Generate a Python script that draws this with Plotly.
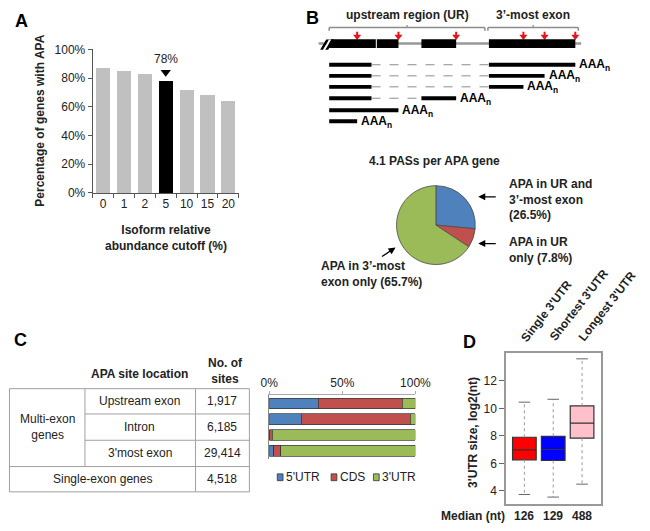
import plotly.graph_objects as go

W, H = 650, 531


def X(p):
    return p / W


def Y(p):
    return 1 - p / H


FONT = "Liberation Sans, Arial, sans-serif"
DARK = "#222222"

# ---------------- Panel A data ----------------
cutoffs = ['0', '1', '2', '5', '10', '15', '20']
apa_pct = [87, 85, 83, 78, 72, 68, 64]
highlight_cutoff = '5'
pct_ticks = [0, 20, 40, 60, 80, 100]

# ---------------- Panel B data ----------------
exon_starts = [0, 18.7, 36.6, 63.4]
exon_ends = [18.7, 27.5, 50.4, 97.7]
gene_end = 100
pas_positions = [11.1, 27.5, 50.4, 77.1, 85.5, 97.7]
region_labels = ['upstream region (UR)', '3’-most exon']
region_starts = [0, 63.0]
region_ends = [61.8, 98.9]
transcripts = [
    [(0, 16.8), (63.4, 97.7)],
    [(0, 16.8), (63.4, 85.5)],
    [(0, 16.8), (63.4, 77.1)],
    [(0, 16.8), (36.6, 50.4)],
    [(0, 27.5)],
    [(0, 11.1)],
]
pie_title = '4.1 PASs per APA gene'
pie_labels = ['APA in UR and<br>3’-most exon', 'APA in UR<br>only', 'APA in 3’-most<br>exon only']
pie_values = [26.5, 7.8, 65.7]
pie_colors = ['#4F81BD', '#C0504D', '#9BBB59']

# ---------------- Panel C data ----------------
site_groups = ['Multi-exon<br>genes', 'Single-exon genes']
site_locations = ['Upstream exon', 'Intron', "3'most exon"]
site_counts = [1917, 6185, 29414, 4518]
region_types = ["5'UTR", 'CDS', "3'UTR"]
bar_rows = ['Upstream exon', 'Intron', "3'most exon", 'Single-exon genes']
utr5_pct = [33.5, 22.0, 0.4, 3.0]
cds_pct = [57.5, 74.5, 1.6, 5.0]
utr3_pct = [9.0, 3.5, 98.0, 92.0]
region_colors = ['#4F81BD', '#C0504D', '#9BBB59']
stack_ticks = [0, 50, 100]

# ---------------- Panel D data ----------------
utr_groups = ["Single 3'UTR", "Shortest 3'UTR", "Longest 3'UTR"]
median_nt = [126, 129, 488]
box_q1 = [6.26, 6.21, 7.83]
box_median = [6.98, 7.01, 8.93]
box_q3 = [7.90, 7.97, 10.18]
whisker_low = [3.74, 3.55, 4.49]
whisker_high = [10.45, 10.66, 13.60]
box_colors = ['#FF0000', '#0000FF', '#FFC0CB']
size_ticks = [4, 6, 8, 10, 12]

fig = go.Figure()
shapes = []
annotations = []


def ann(text, x, y, size=12, bold=False, xanchor='center', yanchor='middle',
        xref='paper', yref='paper', color=DARK, **kw):
    annotations.append(dict(
        text=('<b>%s</b>' % text) if bold else text, x=x, y=y, xref=xref, yref=yref,
        xanchor=xanchor, yanchor=yanchor, showarrow=False,
        font=dict(family=FONT, size=size, color=color), **kw))


# ================= Panel A =================
hi_idx = cutoffs.index(highlight_cutoff)
bar_colors = ['#000000' if c == highlight_cutoff else '#C0C0C0' for c in cutoffs]
fig.add_trace(go.Bar(x=cutoffs, y=apa_pct, marker=dict(color=bar_colors, line=dict(width=0)),
                     xaxis='x', yaxis='y', showlegend=False, hoverinfo='skip'))
hi_val = apa_pct[hi_idx]
fig.add_trace(go.Scatter(x=[highlight_cutoff], y=[hi_val + 6], mode='markers',
                         marker=dict(symbol='triangle-down', size=9, color='black'),
                         xaxis='x', yaxis='y', showlegend=False, hoverinfo='skip', cliponaxis=False))
ann('%d%%' % hi_val, hi_idx, hi_val + 15, size=12, xref='x', yref='y')
ann('Isoform relative<br>abundance cutoff (%)', X(163), Y(237), size=12, bold=True)
ann('Percentage of genes with APA', X(32), Y(117), size=12, bold=True, textangle=-90)
ann('A', X(4), Y(14), size=18, bold=True, xanchor='left', color='black')

# ================= Panel B schematic =================
XB = 'x2'
YB = 'y2'


def bline(x0, y0, x1, y1, color, width, dash='solid'):
    shapes.append(dict(type='line', xref=XB, yref=YB, x0=x0, y0=y0, x1=x1, y1=y1,
                       line=dict(color=color, width=width, dash=dash)))


def brect(x0, y0, x1, y1, color):
    shapes.append(dict(type='rect', xref=XB, yref=YB, x0=x0, y0=y0, x1=x1, y1=y1,
                       fillcolor=color, line=dict(width=0)))


# region brackets
for lab, s, e in zip(region_labels, region_starts, region_ends):
    bline(s, 21, e, 21, '#8C8C8C', 1.5)
    bline(s, 21, s, 24.5, '#8C8C8C', 1.5)
    bline(e, 21, e, 24.5, '#8C8C8C', 1.5)
    bline((s + e) / 2, 21, (s + e) / 2, 18.5, '#8C8C8C', 1.2)
    ann(lab, (s + e) / 2, 8, size=12, bold=True, xref=XB, yref=YB)
# gene line
bline(-4.2, 37.5, gene_end, 37.5, '#999999', 2.5)
for s, e in zip(exon_starts, exon_ends):
    brect(s, 33, e, 42, 'black')
bline(exon_ends[0], 33, exon_ends[0], 42, 'white', 1)
# break marks
shapes.append(dict(type='path', xref=XB, yref=YB,
                   path='M -3.6 44 L -1.2 33.5 L 0 33.5 L -2.4 44 Z', fillcolor='black',
                   line=dict(width=0)))
shapes.append(dict(type='path', xref=XB, yref=YB,
                   path='M -1.6 44 L 0.8 33.5 L 2.0 33.5 L -0.4 44 Z', fillcolor='black',
                   line=dict(width=0)))
shapes.append(dict(type='path', xref=XB, yref=YB,
                   path='M -2.4 44 L 0 33.5 L 0.8 33.5 L -1.6 44 Z', fillcolor='white',
                   line=dict(width=0)))
# PAS arrows
for p in pas_positions:
    bline(p, 25.5, p, 29, '#E8141B', 2)
fig.add_trace(go.Scatter(x=pas_positions, y=[30.3] * len(pas_positions), mode='markers',
                         marker=dict(symbol='triangle-down', size=7, color='#E8141B'),
                         xaxis=XB, yaxis=YB, showlegend=False, hoverinfo='skip', cliponaxis=False))
# transcripts
row_y = [59.3, 70.7, 82.0, 93.7, 106.0, 117.3]
for segs, yy in zip(transcripts, row_y):
    for i, (s, e) in enumerate(segs):
        brect(s, yy - 2, e, yy + 2, 'black')
        if i > 0:
            bline(segs[i - 1][1], yy, s, yy, '#8C8C8C', 1, 'dash')
    ann('AAA<sub>n</sub>', segs[-1][1] + 0.8, yy + 0.5, size=12, bold=True,
        xanchor='left', xref=XB, yref=YB, color='black')
ann('B', X(307), Y(11), size=18, bold=True, xanchor='left', color='black')

# ================= Panel B pie =================
fig.add_trace(go.Pie(values=pie_values, labels=pie_labels, sort=False, direction='clockwise',
                     rotation=0, textinfo='none', hoverinfo='skip', showlegend=False,
                     marker=dict(colors=pie_colors, line=dict(color='#4A4A4A', width=0.8)),
                     domain=dict(x=[X(403), X(485)], y=[Y(265), Y(183)])))
ann(pie_title, X(442), Y(158), size=12, bold=True)
ann('%s<br>(%.1f%%)' % (pie_labels[0], pie_values[0]), X(518), Y(198), size=12, bold=True,
    xanchor='left', align='left')
ann('%s %s' % (pie_labels[1], '(%.1f%%)' % pie_values[1]), X(518), Y(250), size=12, bold=True,
    xanchor='left', align='left')
ann('%s %s' % (pie_labels[2], '(%.1f%%)' % pie_values[2]), X(322), Y(274), size=12, bold=True,
    xanchor='left', align='left')
for (hx, hy, axp, ayp) in [(488, 195, 19, 0), (488, 243, 19, 0), (402, 247, -15, 10)]:
    annotations.append(dict(text='', x=X(hx), y=Y(hy), xref='paper', yref='paper',
                            ax=axp, ay=ayp, showarrow=True, arrowhead=2, arrowsize=1,
                            arrowwidth=1.4, arrowcolor='black'))

# ================= Panel C table =================
TC = '#A0A0A0'


def pline(x0, y0, x1, y1, color=TC, width=1):
    shapes.append(dict(type='line', xref='paper', yref='paper', x0=X(x0), y0=Y(y0),
                       x1=X(x1), y1=Y(y1), line=dict(color=color, width=width)))


pline(0.5, 392, 250, 392)
pline(0.5, 472, 250, 472)
pline(0.5, 498, 250, 498)
pline(79, 418, 250, 418)
pline(79, 445, 250, 445)
pline(0.5, 392, 0.5, 498)
pline(79, 392, 79, 472)
pline(194, 392, 194, 498)
pline(250, 392, 250, 498)

ann('APA site location', X(136), Y(377), size=12, bold=True)
ann('No. of<br>sites', X(225), Y(373.5), size=12, bold=True)
ann(site_groups[0], X(40), Y(431), size=12)
row_mid = [405, 431.5, 458.5, 485]
for lab, yy in zip(site_locations, row_mid[:3]):
    ann(lab, X(136), Y(yy), size=12)
ann(site_groups[1], X(97), Y(row_mid[3]), size=12)
for cnt, yy in zip(site_counts, row_mid):
    ann('{:,}'.format(cnt), X(222), Y(yy), size=12)
ann('C', X(3), Y(342), size=18, bold=True, xanchor='left', color='black')

# stacked bars
for name, vals, col in zip(region_types, [utr5_pct, cds_pct, utr3_pct], region_colors):
    fig.add_trace(go.Bar(y=bar_rows, x=vals, orientation='h', name=name,
                         marker=dict(color=col, line=dict(color='#333333', width=0.7)),
                         xaxis='x3', yaxis='y3', showlegend=False, hoverinfo='skip'))
leg_x = [279, 335, 379]
for name, col, lx in zip(region_types, region_colors, leg_x):
    shapes.append(dict(type='rect', xref='paper', yref='paper', x0=X(lx), x1=X(lx + 6),
                       y0=Y(486.5), y1=Y(479.5), fillcolor=col,
                       line=dict(color='#333333', width=0.8)))
    ann(name, X(lx + 7), Y(483), size=12, xanchor='left')

# ================= Panel D =================
for i in range(3):
    fig.add_trace(go.Box(x=[i], q1=[box_q1[i]], median=[box_median[i]], q3=[box_q3[i]],
                         lowerfence=[box_q1[i]], upperfence=[box_q3[i]],
                         fillcolor=box_colors[i], line=dict(color='#333333', width=1.2),
                         width=0.82, whiskerwidth=0, boxpoints=False,
                         xaxis='x4', yaxis='y4', showlegend=False, hoverinfo='skip'))
wx, wy, cx, cy = [], [], [], []
for i in range(3):
    wx += [i, i, None, i, i, None]
    wy += [box_q3[i], whisker_high[i], None, box_q1[i], whisker_low[i], None]
    cx += [i - 0.2, i + 0.2, None, i - 0.2, i + 0.2, None]
    cy += [whisker_high[i], whisker_high[i], None, whisker_low[i], whisker_low[i], None]
fig.add_trace(go.Scatter(x=wx, y=wy, mode='lines', line=dict(color='#9A9A9A', width=1, dash='dot'),
                         xaxis='x4', yaxis='y4', showlegend=False, hoverinfo='skip'))
fig.add_trace(go.Scatter(x=cx, y=cy, mode='lines', line=dict(color='#666666', width=1),
                         xaxis='x4', yaxis='y4', showlegend=False, hoverinfo='skip'))
for i, g in enumerate(utr_groups):
    ann(g, i - 0.32, Y(349), size=12, bold=True, xref='x4', xanchor='left', yanchor='bottom',
        textangle=-52)
    ann(str(median_nt[i]), i, Y(523), size=12, bold=True, xref='x4')
ann('Median (nt)', X(518), Y(523), size=12, bold=True, xanchor='right')
ann("3'UTR size, log2(nt)", X(483), Y(437), size=12, bold=True, textangle=-90)
ann('D', X(470), Y(344), size=18, bold=True, xanchor='left', color='black')

fig.update_layout(
    width=W, height=H, margin=dict(l=0, r=0, t=0, b=0),
    paper_bgcolor='white', plot_bgcolor='white',
    font=dict(family=FONT, size=12, color=DARK),
    barmode='stack', bargap=0.32,
    shapes=shapes, annotations=annotations,
    xaxis=dict(domain=[X(87), X(239)], type='category', showline=True, linecolor='#555555',
               linewidth=1, ticks='outside', tickson='boundaries', ticklen=4, tickcolor='#555555',
               tickangle=0, tickfont=dict(size=12, color=DARK), showgrid=False, zeroline=False),
    yaxis=dict(domain=[Y(191), Y(43.5)], range=[0, 100], tickvals=pct_ticks,
               ticktext=['%d%%' % v for v in pct_ticks], showline=True, linecolor='#555555',
               linewidth=1, ticks='outside', ticklen=4, tickcolor='#555555',
               tickfont=dict(size=12, color=DARK), showgrid=False, zeroline=False),
    xaxis2=dict(domain=[X(333 - 8 * 2.62), X(333 + 118 * 2.62)], range=[-8, 118], visible=False,
                anchor='y2'),
    yaxis2=dict(domain=[Y(130), Y(0)], range=[130, 0], visible=False, anchor='x2'),
    xaxis3=dict(domain=[X(270.7), X(422.7)], range=[0, 100], side='top', anchor='y3',
                tickvals=stack_ticks, ticktext=['%d%%' % v for v in stack_ticks],
                showline=True, linecolor='#AAAAAA', ticks='outside', ticklen=3,
                tickcolor='#AAAAAA', tickfont=dict(size=12, color=DARK),
                showgrid=False, zeroline=False),
    yaxis3=dict(domain=[Y(464), Y(399)], anchor='x3', autorange='reversed', showticklabels=False,
                showline=True, linecolor='#888888', ticks='', showgrid=False, zeroline=False),
    xaxis4=dict(domain=[X(517), X(616)], range=[-0.633, 2.667], anchor='y4', showticklabels=False,
                showline=True, mirror=True, linecolor='#999999', linewidth=1.5, ticks='',
                showgrid=False, zeroline=False),
    yaxis4=dict(domain=[Y(510), Y(355)], range=[3.08, 14.05], anchor='x4', tickvals=size_ticks,
                showline=True, mirror=True, linecolor='#999999', linewidth=1.5, ticks='outside',
                ticklen=5, tickcolor='#666666', tickfont=dict(size=12, color=DARK),
                showgrid=False, zeroline=False),
    boxmode='overlay',
)

fig.write_html("out.html", config={'displayModeBar': False},
               post_script="document.body.style.margin='0';document.body.style.padding='0';")
